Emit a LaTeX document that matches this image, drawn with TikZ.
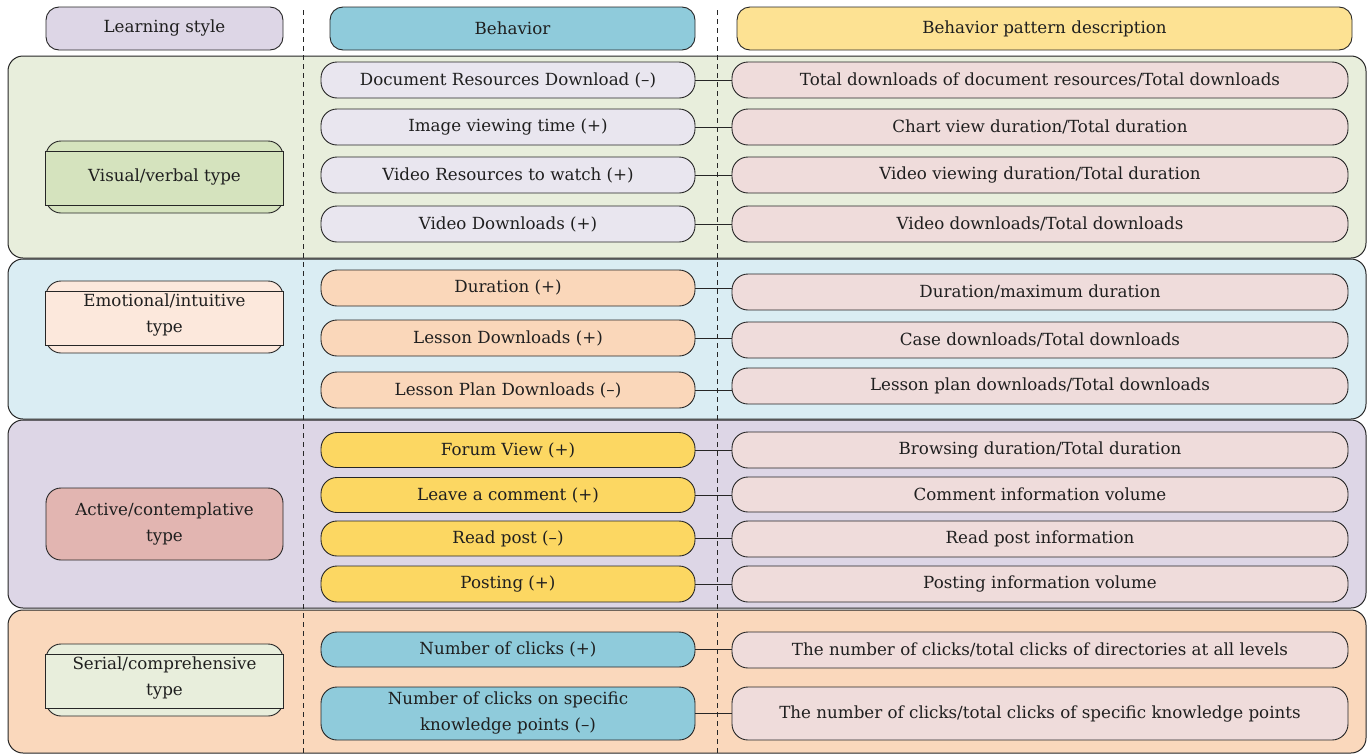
\documentclass[tikz,border=0pt]{standalone}
\usepackage{fontspec}
\setmainfont{DejaVu Serif}
\definecolor{hdrA}{HTML}{DDD6E6}
\definecolor{hdrB}{HTML}{8FCBDB}
\definecolor{hdrC}{HTML}{FDE293}
\definecolor{panA}{HTML}{E8EEDC}
\definecolor{panB}{HTML}{DAEDF3}
\definecolor{panC}{HTML}{DDD6E6}
\definecolor{panD}{HTML}{FAD8BC}
\definecolor{typA}{HTML}{D5E3BE}
\definecolor{typB}{HTML}{FCE8DC}
\definecolor{typC}{HTML}{E2B5B1}
\definecolor{typD}{HTML}{E8EEDC}
\definecolor{behA}{HTML}{E9E6EF}
\definecolor{behB}{HTML}{FAD7BA}
\definecolor{behC}{HTML}{FCD762}
\definecolor{behD}{HTML}{8FCBDB}
\definecolor{descbox}{HTML}{EFDCDB}
\definecolor{edge}{HTML}{262626}
\begin{document}
\begin{tikzpicture}[x=1pt,y=-1pt,
  txt/.style={font=\fontsize{16.7}{26}\selectfont, text=black!88, align=center, inner sep=0pt},
  hdr/.style={txt, draw=edge, line width=0.9pt, rounded corners=13pt, minimum height=43pt},
  panel/.style={draw=edge, line width=1pt, rounded corners=15pt},
  behbox/.style={txt, draw=edge, line width=0.9pt, rounded corners=16pt, minimum width=374pt, minimum height=36pt},
  descnode/.style={txt, draw=edge, line width=0.9pt, rounded corners=16pt, fill=descbox, minimum width=616pt, minimum height=36pt},
  typebox/.style={txt, draw=edge, line width=0.9pt, rounded corners=15pt, minimum width=237pt, minimum height=72pt},
  sepline/.style={draw=edge, line width=0.9pt, dash pattern=on 5pt off 4pt},
  conn/.style={draw=edge, line width=0.9pt}]
\useasboundingbox (0,0) rectangle (1370,755);
% panels
\draw[panel, fill=panA] (8,56) rectangle (1366,258);
\draw[panel, fill=panB] (8,259) rectangle (1366,419);
\draw[panel, fill=panC] (8,420) rectangle (1366,608);
\draw[panel, fill=panD] (8,610) rectangle (1366,753);
% separators
\coordinate (s1t) at (303,10); \coordinate (s1b) at (303,755);
\coordinate (s2t) at (717,10); \coordinate (s2b) at (717,755);
\draw[sepline] (s1t) -- (s1b);
\draw[sepline] (s2t) -- (s2b);
% headers
\node[hdr, fill=hdrA, minimum width=237pt] (h1) at (164.5,28.5) {Learning style};
\node[hdr, fill=hdrB, minimum width=365pt] (h2) at (512.5,28.5) {Behavior};
\node[hdr, fill=hdrC, minimum width=615pt] (h3) at (1044.5,28.5) {Behavior pattern description};
% type boxes
\node[typebox, fill=typA] (t1) at (164.5,177) {};
\draw[draw=edge, line width=0.9pt, fill=typA] ([yshift=-11pt]t1.north west) rectangle ([yshift=8pt]t1.south east);
\node[txt] at (t1) {Visual/verbal type};
\node[typebox, fill=typB] (t2) at (164.5,317) {};
\draw[draw=edge, line width=0.9pt, fill=typB] ([yshift=-11pt]t2.north west) rectangle ([yshift=8pt]t2.south east);
\node[txt] at ([yshift=2pt]t2) {Emotional/intuitive\\type};
\node[typebox, fill=typC] (t3) at (164.5,524) {Active/contemplative\\type};
\node[typebox, fill=typD] (t4) at (164.5,680) {};
\draw[draw=edge, line width=0.9pt, fill=typD] ([yshift=-11pt]t4.north west) rectangle ([yshift=8pt]t4.south east);
\node[txt] at ([yshift=2pt]t4) {Serial/comprehensive\\type};
% group 1
\node[behbox, fill=behA] (b1) at (508,80) {Document Resources Download (–)};
\node[descnode] (d1) at (1040,80) {Total downloads of document resources/Total downloads};
\node[behbox, fill=behA] (b2) at (508,127) {Image viewing time (+)};
\node[descnode] (d2) at (1040,127) {Chart view duration/Total duration};
\node[behbox, fill=behA] (b3) at (508,175) {Video Resources to watch (+)};
\node[descnode] (d3) at (1040,175) {Video viewing duration/Total duration};
\node[behbox, fill=behA] (b4) at (508,224) {Video Downloads (+)};
\node[descnode] (d4) at (1040,224) {Video downloads/Total downloads};
% group 2
\node[behbox, fill=behB] (b5) at (508,288) {\raisebox{3pt}{Duration (+)}};
\node[descnode] (d5) at (1040,292) {Duration/maximum duration};
\node[behbox, fill=behB] (b6) at (508,338) {Lesson Downloads (+)};
\node[descnode] (d6) at (1040,340) {Case downloads/Total downloads};
\node[behbox, fill=behB] (b7) at (508,390) {Lesson Plan Downloads (–)};
\node[descnode] (d7) at (1040,386) {Lesson plan downloads/Total downloads};
% group 3
\node[behbox, fill=behC, minimum height=35pt] (b8) at (508,450) {Forum View (+)};
\node[descnode] (d8) at (1040,450) {Browsing duration/Total duration};
\node[behbox, fill=behC, minimum height=35pt] (b9) at (508,495) {Leave a comment (+)};
\node[descnode, minimum height=35pt] (d9) at (1040,494.5) {Comment information volume};
\node[behbox, fill=behC, minimum height=35pt] (b10) at (508,538.5) {Read post (–)};
\node[descnode] (d10) at (1040,539) {Read post information};
\node[behbox, fill=behC] (b11) at (508,584) {Posting (+)};
\node[descnode] (d11) at (1040,584) {Posting information volume};
% group 4
\node[behbox, fill=behD, minimum height=35pt] (b12) at (508,649.5) {Number of clicks (+)};
\node[descnode] (d12) at (1040,650) {The number of clicks/total clicks of directories at all levels};
\node[behbox, fill=behD, minimum height=53pt] (b13) at (508,713.5) {Number of clicks on specific\\knowledge points (–)};
\node[descnode, minimum height=53pt] (d13) at (1040,713.5) {The number of clicks/total clicks of specific knowledge points};
% connectors
\foreach \i in {1,...,13}{
  \draw[conn] (b\i.east) -- (b\i.east -| d\i.west);
}
\end{tikzpicture}
\end{document}
